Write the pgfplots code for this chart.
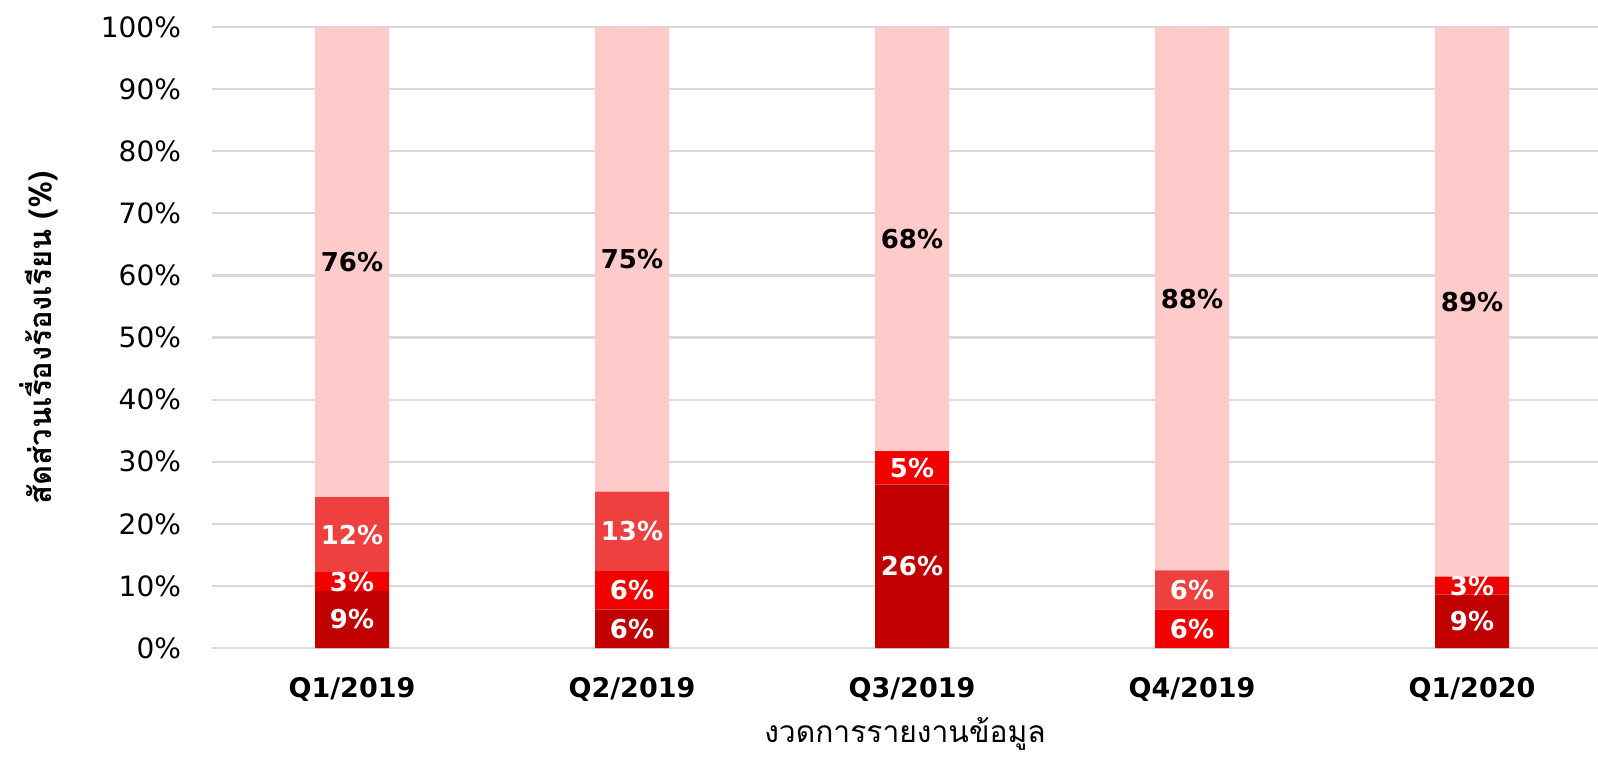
\documentclass[border=0pt]{standalone}
\usepackage{fontspec}
\setmainfont{DejaVu Sans}
\newfontfamily\thaifont[Script=Thai]{Loma}
\usepackage{pgfplots}
\pgfplotsset{compat=1.18}
\usepackage{pgfplotstable}
\definecolor{cDark}{HTML}{C00000}
\definecolor{cRed}{HTML}{F20000}
\definecolor{cLight}{HTML}{EF4040}
\definecolor{cPink}{HTML}{FECACA}
\definecolor{cGrid}{HTML}{D9D9D9}
\pgfplotstableread{
x dark red light pink
0 9.2 3.0 12.1 75.7
1 6.2 6.3 12.7 74.8
2 26.3 5.4 0 68.3
3 0 6.2 6.3 87.5
4 8.6 2.9 0 88.5
}\data
\pgfplotstableread{
x y lab
0 4.6 9
0 10.7 3
0 18.25 12
1 3.1 6
1 9.35 6
1 18.85 13
2 13.15 26
2 29.0 5
3 3.1 6
3 9.35 6
4 4.3 9
4 10.05 3
}\whitelabels
\pgfplotstableread{
x y lab
0 62.15 76
1 62.6 75
2 65.85 68
3 56.25 88
4 55.75 89
}\blacklabels
\pgfplotsset{base/.style={
  scale only axis, width=693pt, height=310.5pt,
  xmin=-0.5, xmax=4.45, ymin=0, ymax=100,
  at={(106pt,54pt)}, anchor=south west,
}}
\begin{document}
\begin{tikzpicture}
\useasboundingbox (0,0) rectangle (799pt,378pt);
\begin{axis}[base,
  ybar stacked, bar width=37pt,
  axis line style={draw=none},
  major tick length=0pt,
  ymajorgrids, grid style={cGrid, line width=1.1pt},
  xtick={0,1,2,3,4},
  xticklabels={Q1/2019,Q2/2019,Q3/2019,Q4/2019,Q1/2020},
  xticklabel style={font=\bfseries\fontsize{13.5}{16}\selectfont, yshift=-11pt},
  ytick={0,10,...,100},
  yticklabels={0\%,10\%,20\%,30\%,40\%,50\%,60\%,70\%,80\%,90\%,100\%},
  yticklabel style={font=\fontsize{14}{16}\selectfont, xshift=-12pt},
  xlabel={\thaifont งวดการรายงานข้อมูล},
  xlabel style={font=\fontsize{15}{18}\selectfont, at={(axis description cs:0.5,0)}, anchor=center, yshift=-43pt},
  ylabel={\thaifont\bfseries สัดส่วนเรื่องร้องเรียน (\%)},
  ylabel style={font=\fontsize{15.5}{18}\selectfont, at={(axis description cs:-0.1248,0.5)}, anchor=center, rotate=0},
]
\addplot[fill=cDark, draw=none] table[x=x, y=dark] {\data};
\addplot[fill=cRed, draw=none] table[x=x, y=red] {\data};
\addplot[fill=cLight, draw=none] table[x=x, y=light] {\data};
\addplot[fill=cPink, draw=none] table[x=x, y=pink] {\data};
\end{axis}
\begin{axis}[base, hide axis,
  point meta=explicit symbolic,
  nodes near coords={\pgfplotspointmeta\%},
  nodes near coords align=center,
  nodes near coords style={anchor=center, font=\bfseries\fontsize{13}{15}\selectfont},
]
\addplot[draw=none, mark=none, nodes near coords style={text=white}] table[x=x, y=y, meta=lab] {\whitelabels};
\addplot[draw=none, mark=none, nodes near coords style={text=black}] table[x=x, y=y, meta=lab] {\blacklabels};
\end{axis}
\end{tikzpicture}
\end{document}
